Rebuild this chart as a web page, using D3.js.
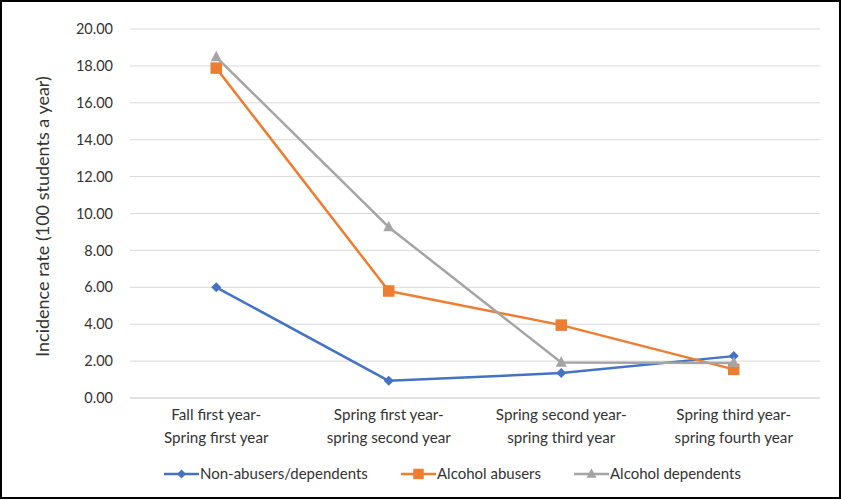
<!DOCTYPE html>
<html>
<head>
<meta charset="utf-8">
<script src="https://cdn.jsdelivr.net/npm/d3@7/dist/d3.min.js"></script>
<style>
  html, body { margin: 0; padding: 0; background: #fff; }
  svg { display: block; }
  text { font-family: Lato, "Open Sans", "Liberation Sans", sans-serif; fill: #333; }
</style>
</head>
<body>
<svg id="chart" width="841" height="500"></svg>
<script>
// Incidence periods along the x axis (two-line labels)
const categories = [
  ["Fall first year-", "Spring first year"],
  ["Spring first year-", "spring second year"],
  ["Spring second year-", "spring third year"],
  ["Spring third year-", "spring fourth year"]
];
const seriesNames = ["Non-abusers/dependents", "Alcohol abusers", "Alcohol dependents"];
const nonAbusers = [6.00, 0.93, 1.35, 2.27];
const abusers = [17.88, 5.80, 3.95, 1.55];
const dependents = [18.48, 9.26, 1.92, 1.90];
const yTicks = [0, 2, 4, 6, 8, 10, 12, 14, 16, 18, 20];
const yTitle = "Incidence rate (100 students a year)";

const colors = ["#4472C4", "#ED7D31", "#A5A5A5"];
const markers = ["diamond", "square", "triangle"];
const markerSize = [5, 5.75, 5.5];
const series = [nonAbusers, abusers, dependents];

const svg = d3.select("#chart");
const W = 841, H = 500;

// outer frame
svg.append("rect").attr("x", 1).attr("y", 1).attr("width", W - 2).attr("height", H - 3)
  .attr("fill", "#fff").attr("stroke", "#000").attr("stroke-width", 2);

const plotL = 130, plotR = 820, plotT = 29, plotB = 398;

const x = d3.scaleBand().domain(d3.range(categories.length)).range([plotL, plotR]);
const y = d3.scaleLinear().domain([0, 20]).range([plotB, plotT]);

// horizontal gridlines
svg.append("g").selectAll("line").data(yTicks).join("line")
  .attr("x1", plotL).attr("x2", plotR)
  .attr("y1", d => y(d)).attr("y2", d => y(d))
  .attr("stroke", "#d9d9d9")
  .attr("stroke-width", d => d === 0 ? 1.5 : 1);

// y tick labels
const yAxis = d3.axisLeft(y).tickValues(yTicks).tickFormat(d3.format(".2f")).tickSize(0).tickPadding(0);
const yg = svg.append("g").attr("transform", `translate(${plotL - 17},0)`).call(yAxis);
yg.select(".domain").remove();
yg.selectAll("text").attr("font-size", 14.5).attr("fill", "#333")
  .style("font-family", "Lato, 'Open Sans', sans-serif");

// y title
svg.append("text")
  .attr("transform", `translate(49,${(plotT + plotB) / 2 + 3}) rotate(-90)`)
  .attr("text-anchor", "middle").attr("font-size", 18).text(yTitle);

// x category labels
const cx = i => x(i) + x.bandwidth() / 2;
const xg = svg.append("g");
categories.forEach((lines, i) => {
  const t = xg.append("text").attr("text-anchor", "middle").attr("font-size", 15.2)
    .attr("x", cx(i)).attr("y", 420);
  lines.forEach((ln, j) => t.append("tspan").attr("x", cx(i)).attr("dy", j === 0 ? 0 : 22.5).text(ln));
});

function drawMarker(g, type, px, py, color, s) {
  if (type === "diamond") {
    g.append("path").attr("d", `M${px},${py - s}L${px + s},${py}L${px},${py + s}L${px - s},${py}Z`).attr("fill", color);
  } else if (type === "square") {
    g.append("rect").attr("x", px - s).attr("y", py - s).attr("width", 2 * s).attr("height", 2 * s).attr("fill", color);
  } else {
    g.append("path").attr("d", `M${px},${py - s * 1.15}L${px + s},${py + s * 0.75}L${px - s},${py + s * 0.75}Z`).attr("fill", color);
  }
}

const line = d3.line().x((d, i) => cx(i)).y(d => y(d));

series.forEach((vals, k) => {
  const g = svg.append("g");
  g.append("path").attr("d", line(vals)).attr("fill", "none")
    .attr("stroke", colors[k]).attr("stroke-width", 2.5).attr("stroke-linejoin", "round");
  vals.forEach((v, i) => drawMarker(g, markers[k], cx(i), y(v), colors[k], markerSize[k]));
});

// legend
const legendX = [164, 401, 574];
const legend = svg.append("g");
seriesNames.forEach((name, k) => {
  const lx = legendX[k], ly = 474;
  legend.append("line").attr("x1", lx).attr("x2", lx + 35).attr("y1", ly).attr("y2", ly)
    .attr("stroke", colors[k]).attr("stroke-width", 2.5);
  drawMarker(legend, markers[k], lx + 17.5, ly, colors[k], markerSize[k] - 0.5);
  legend.append("text").attr("x", lx + 36).attr("y", ly + 5).attr("font-size", 15).text(name);
});
</script>
</body>
</html>
